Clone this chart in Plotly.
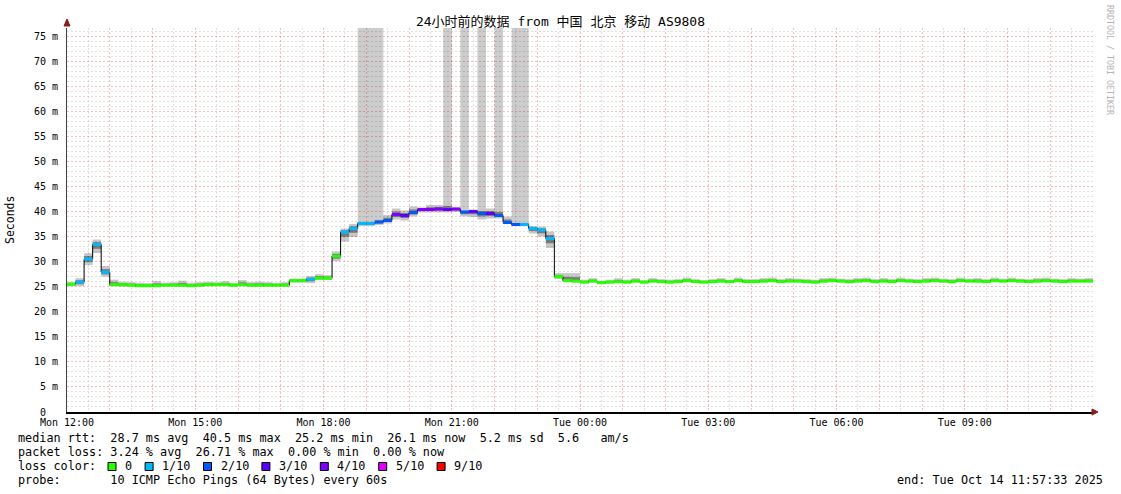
import pandas as pd
import plotly.graph_objects as go

# ---- data (12 minute steps, Mon 12:00 -> Tue 12:00)
title = "24小时前的数据 from 中国 北京 移动 AS9808"
start = "2025-10-13 12:00"
end = "2025-10-14 12:00"

median = [
    25.5, 25.9, 30.5, 33.4, 27.9, 25.4, 25.4, 25.3, 25.2, 25.2,
    25.2, 25.3, 25.3, 25.3, 25.2, 25.3, 25.4, 25.4, 25.4, 25.3,
    25.4, 25.3, 25.3, 25.3, 25.3, 25.3, 26.2, 26.2, 26.5, 26.7,
    26.7, 31.1, 35.9, 36.6, 37.6, 37.6, 37.9, 38.2, 39.4, 39.2,
    39.8, 40.4, 40.4, 40.5, 40.4, 40.5, 39.9, 40.0, 39.6, 39.6,
    39.2, 37.8, 37.4, 37.4, 36.6, 36.3, 34.6, 27.0, 26.2, 26.1,
    25.9, 26.1, 25.8, 25.9, 26.0, 25.9, 26.1, 25.9, 26.1, 26.0,
    25.9, 26.0, 26.2, 26.0, 25.9, 26.0, 26.1, 26.0, 26.2, 26.0,
    26.0, 26.1, 26.2, 26.0, 26.1, 26.1, 26.0, 25.9, 26.1, 26.2,
    26.1, 26.0, 26.1, 26.2, 26.0, 26.1, 26.0, 26.2, 26.1, 26.0,
    26.1, 26.2, 26.1, 26.0, 26.2, 26.1, 26.1, 26.0, 26.2, 26.1,
    26.2, 26.1, 26.0, 26.1, 26.2, 26.1, 26.0, 26.1, 26.1, 26.1,
]
smoke_lo = [
    25.1, 25.1, 29.3, 31.7, 27.0, 25.1, 25.0, 25.0, 24.9, 24.9,
    24.9, 25.0, 25.0, 25.0, 24.9, 25.0, 25.1, 25.1, 25.1, 25.0,
    25.1, 25.0, 25.0, 25.0, 25.0, 25.0, 25.8, 25.8, 25.7, 26.3,
    26.3, 30.1, 34.0, 34.9, 37.1, 37.1, 37.3, 37.6, 38.4, 38.2,
    39.0, 39.8, 39.8, 39.8, 39.8, 39.9, 39.0, 38.9, 38.4, 38.6,
    38.6, 37.6, 37.1, 37.1, 35.6, 35.0, 32.7, 26.5, 26.0, 25.9,
    25.7, 25.9, 25.6, 25.7, 25.8, 25.7, 25.9, 25.7, 25.9, 25.8,
    25.7, 25.8, 26.0, 25.8, 25.7, 25.8, 25.9, 25.8, 26.0, 25.8,
    25.8, 25.9, 26.0, 25.8, 25.9, 25.9, 25.8, 25.7, 25.9, 26.0,
    25.9, 25.8, 25.9, 26.0, 25.8, 25.9, 25.8, 26.0, 25.9, 25.8,
    25.9, 26.0, 25.9, 25.8, 26.0, 25.9, 25.9, 25.8, 26.0, 25.9,
    26.0, 25.9, 25.8, 25.9, 26.0, 25.9, 25.8, 25.9, 25.9, 25.9,
]
smoke_hi = [
    25.9, 26.7, 31.7, 34.4, 29.1, 26.4, 26.0, 25.9, 25.8, 25.7,
    26.1, 25.8, 25.9, 26.2, 25.8, 25.9, 26.0, 25.9, 26.1, 25.8,
    26.3, 25.9, 26.0, 25.9, 25.8, 25.9, 26.6, 26.6, 27.1, 27.5,
    27.3, 32.0, 36.6, 37.5, 38.2, 38.2, 38.6, 39.3, 40.6, 40.2,
    41.0, 40.8, 41.3, 41.3, 41.8, 40.8, 40.3, 40.4, 40.6, 40.6,
    40.6, 39.0, 38.0, 38.0, 37.1, 37.0, 36.0, 27.7, 27.7, 27.7,
    26.4, 26.7, 26.2, 26.4, 26.7, 26.4, 26.7, 26.3, 26.7, 26.5,
    26.4, 26.5, 26.8, 26.5, 26.3, 26.5, 26.7, 26.4, 26.8, 26.5,
    26.5, 26.7, 26.8, 26.5, 26.7, 26.6, 26.5, 26.4, 26.7, 26.8,
    26.6, 26.5, 26.7, 26.8, 26.5, 26.7, 26.5, 26.8, 26.6, 26.5,
    26.7, 26.8, 26.6, 26.5, 26.8, 26.6, 26.7, 26.5, 26.8, 26.6,
    26.8, 26.6, 26.5, 26.7, 26.8, 26.6, 26.5, 26.7, 26.6, 26.7,
]
# index into loss_colors for every step
loss_level = [
    0, 1, 1, 1, 1, 0, 0, 0, 0, 0,
    0, 0, 0, 0, 0, 0, 0, 0, 0, 0,
    0, 0, 0, 0, 0, 0, 0, 0, 1, 0,
    0, 0, 1, 1, 1, 1, 2, 2, 4, 3,
    2, 4, 4, 4, 3, 4, 2, 3, 2, 3,
    2, 2, 2, 1, 1, 1, 1, 0, 0, 0,
] + [0] * 60
# steps where lost pings push the smoke off the top of the graph
spike_steps = [34, 35, 36, 44, 46, 48, 50, 52, 53]

loss_colors = ["#26ff00", "#00b8ff", "#0059ff", "#5e00ff", "#7e00ff", "#dd00ff", "#ff0000"]
loss_labels = ["0", "1/10", "2/10", "3/10", "4/10", "5/10", "9/10"]

x_labels = ["Mon 12:00", "Mon 15:00", "Mon 18:00", "Mon 21:00",
            "Tue 00:00", "Tue 03:00", "Tue 06:00", "Tue 09:00"]
y_ticks = list(range(0, 80, 5))

rtt_line = "median rtt:  28.7 ms avg  40.5 ms max  25.2 ms min  26.1 ms now  5.2 ms sd  5.6   am/s"
loss_line = "packet loss: 3.24 % avg  26.71 % max  0.00 % min  0.00 % now"
probe_line = "probe:       10 ICMP Echo Pings (64 Bytes) every 60s"
end_line = "end: Tue Oct 14 11:57:33 2025"

# ---- geometry (pixels of the 1121x494 canvas)
W, H = 1121, 494
L, R, T, B = 67, 1093, 28, 412
YMAX = 76.6
FONT = "DejaVu Sans Mono, Noto Sans CJK SC, monospace"


def px(x):
    return (x - L) / (R - L)


def py(y):
    return (B - y) / (B - T)


def nb(s):
    return s.replace(" ", "\u00a0")


step_ms = 12 * 60 * 1000
times = pd.date_range(start, periods=len(median), freq="12min")
hours = pd.date_range(start, end, freq="1h")[:-1]
half_hours = hours + pd.Timedelta(minutes=30)
tick_text = [x_labels[i // 3] if i % 3 == 0 else "" for i in range(len(hours))]
y_minor = [v for v in range(0, 77) if v % 5]

fig = go.Figure()

# smoke off the top (lost pings)
fig.add_trace(go.Bar(
    x=[times[i] for i in spike_steps],
    base=[smoke_hi[i] for i in spike_steps],
    y=[YMAX + 10 - smoke_hi[i] for i in spike_steps],
    width=step_ms, offset=0,
    marker=dict(color="rgba(0,0,0,0.2)", line_width=0),
    hoverinfo="skip",
))
# outer smoke
fig.add_trace(go.Bar(
    x=times, base=smoke_lo,
    y=[h - l for h, l in zip(smoke_hi, smoke_lo)],
    width=step_ms, offset=0,
    marker=dict(color="rgba(0,0,0,0.22)", line_width=0),
    hoverinfo="skip",
))
# darker smoke near the median
inner_lo = [m - (m - l) * 0.5 for m, l in zip(median, smoke_lo)]
inner_hi = [m + (h - m) * 0.5 for m, h in zip(median, smoke_hi)]
fig.add_trace(go.Bar(
    x=times, base=inner_lo,
    y=[h - l for h, l in zip(inner_hi, inner_lo)],
    width=step_ms, offset=0,
    marker=dict(color="rgba(0,0,0,0.38)", line_width=0),
    hoverinfo="skip",
))
# median line
fig.add_trace(go.Scatter(
    x=list(times) + [pd.Timestamp(end)], y=median + [median[-1]],
    mode="lines", line=dict(color="#000000", width=1, shape="hv"),
    hoverinfo="skip",
))
# loss coloured median band (on overlay axes so it sits above the line)
fig.add_trace(go.Bar(
    x=times, base=[m - 0.3 for m in median], y=[0.6] * len(median),
    width=step_ms, offset=0,
    marker=dict(color=[loss_colors[k] for k in loss_level], line_width=0),
    xaxis="x2", yaxis="y2", hoverinfo="skip",
))

grid_major = "rgba(240,80,80,0.38)"
grid_minor = "rgba(0,0,0,0.12)"
dots = "2px,2px"

fig.update_layout(
    width=W, height=H,
    margin=dict(l=L, r=W - R, t=T, b=H - B, pad=0),
    paper_bgcolor="white", plot_bgcolor="white",
    showlegend=False, barmode="overlay",
    font=dict(family=FONT, size=10, color="#000000"),
    title=dict(text=title, x=0.5, xanchor="center", y=1 - 21 / H, yanchor="middle",
               font=dict(family=FONT, size=13)),
    xaxis=dict(
        type="date", range=[start, end],
        tickmode="array", tickvals=hours, ticktext=tick_text,
        tickfont=dict(size=10), ticks="", ticklabelstandoff=0,
        showgrid=True, gridcolor=grid_major, griddash=dots, gridwidth=1,
        minor=dict(tickmode="array", tickvals=half_hours, showgrid=True,
                   gridcolor=grid_minor, griddash=dots, gridwidth=1),
        showline=True, linecolor="#000000", linewidth=2,
        zeroline=False, fixedrange=True,
    ),
    yaxis=dict(
        range=[0, YMAX],
        tickmode="array", tickvals=y_ticks,
        ticktext=[nb("0  ") if v == 0 else f"{v} m" for v in y_ticks],
        tickfont=dict(size=10), ticks="", ticklabelstandoff=6,
        showgrid=True, gridcolor=grid_major, griddash=dots, gridwidth=1,
        minor=dict(tickmode="array", tickvals=y_minor, showgrid=True,
                   gridcolor=grid_minor, griddash=dots, gridwidth=1),
        showline=True, linecolor="#404040", linewidth=1,
        zeroline=False, fixedrange=True,
    ),
    xaxis2=dict(overlaying="x", matches="x", visible=False, type="date"),
    yaxis2=dict(overlaying="y", matches="y", visible=False),
)

# axis arrows
arrow = "#8b1a1a"
fig.add_shape(type="path", xref="paper", yref="paper", fillcolor=arrow, line=dict(color=arrow, width=1),
              path=f"M {px(67)},{py(19)} L {px(64)},{py(26)} L {px(70)},{py(26)} Z")
fig.add_shape(type="path", xref="paper", yref="paper", fillcolor=arrow, line=dict(color=arrow, width=1),
              path=f"M {px(1098)},{py(412)} L {px(1092)},{py(409)} L {px(1092)},{py(415)} Z")


def text(x, y, s, size=11.8, anchor="left", color="#000000", angle=0):
    fig.add_annotation(xref="paper", yref="paper", x=px(x), y=py(y), text=nb(s),
                       showarrow=False, xanchor=anchor, yanchor="middle", textangle=angle,
                       font=dict(family=FONT, size=size, color=color))


text(10, 220, "Seconds", size=11.5, anchor="center", angle=-90)
text(1110, 60, "RRDTOOL / TOBI OETIKER", size=8.3, anchor="center", color="#b4b4b4", angle=90)

text(16, 438, rtt_line)
text(16, 452, loss_line)
text(16, 466, "loss color:")
text(16, 480, probe_line)
text(1105, 480, end_line, anchor="right")

bx = 108
for c, lab in zip(loss_colors, loss_labels):
    fig.add_shape(type="rect", xref="paper", yref="paper",
                  x0=px(bx), x1=px(bx + 8), y0=py(462.5), y1=py(470.5),
                  fillcolor=c, line=dict(color="#000000", width=1))
    text(bx + 15, 466, lab)
    bx = bx + 15 + 7.1 * len(lab) + 15

fig.write_html("out.html", config={"displayModeBar": False},
               post_script="document.body.style.margin='0';")
